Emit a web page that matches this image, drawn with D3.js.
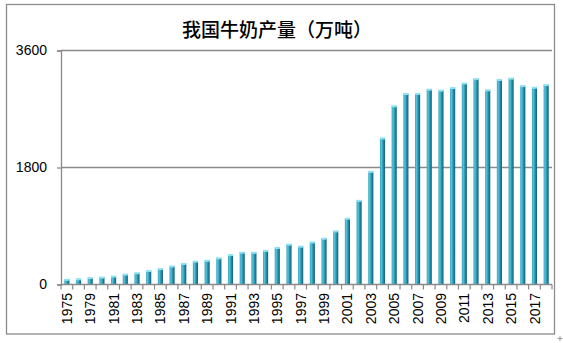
<!DOCTYPE html>
<html>
<head>
<meta charset="utf-8">
<script src="https://cdn.jsdelivr.net/npm/d3@7"></script>
<style>
  html, body { margin: 0; padding: 0; background: #fff; }
  svg { display: block; }
</style>
</head>
<body>
<svg id="chart" width="563" height="343"></svg>
<script>
const title = "我国牛奶产量（万吨）";
const years = ["1975","1978","1979","1980","1981","1982","1983","1984","1985","1986",
  "1987","1988","1989","1990","1991","1992","1993","1994","1995","1996","1997","1998",
  "1999","2000","2001","2002","2003","2004","2005","2006","2007","2008","2009","2010",
  "2011","2012","2013","2014","2015","2016","2017","2018"];
const milk = [80, 88, 107, 114, 129, 160, 180, 215, 245, 285,
  325, 360, 372, 410, 460, 497, 495, 525, 570, 620, 590, 655,
  712, 825, 1020, 1295, 1740, 2255, 2748, 2938, 2940, 3005, 2990, 3030,
  3100, 3168, 2995, 3155, 3175, 3060, 3035, 3075];
const yTicks = [0, 1800, 3600];

(function () {
const svg = d3.select("#chart");
const pLeft = 61, pRight = 552, pTop = 50.5, pBottom = 284.5;

// outer border
svg.append("rect").attr("x", 6.5).attr("y", 4.5).attr("width", 548).attr("height", 329.5)
  .attr("fill", "#fff").attr("stroke", "#8c8c8c").attr("stroke-width", 1.3);
// small resize mark
svg.append("path").attr("d", "M557.5,338.5h5M560,336v5").attr("stroke", "#999").attr("stroke-width", 1);

const defs = svg.append("defs");
const g1 = defs.append("linearGradient").attr("id", "barGrad").attr("x1", "0").attr("x2", "1").attr("y1", "0").attr("y2", "0");
[["0%", "#3aa6c1"], ["30%", "#55c2da"], ["60%", "#2794b1"], ["100%", "#135d72"]].forEach(s =>
  g1.append("stop").attr("offset", s[0]).attr("stop-color", s[1]));

const x = d3.scaleBand().domain(years).range([pLeft, pRight]).paddingInner(0.56).paddingOuter(0.28);
const y = d3.scaleLinear().domain([0, 3600]).range([pBottom, pTop]);

// gridlines
svg.append("g").selectAll("line").data(yTicks.filter(d => d > 0)).join("line")
  .attr("x1", pLeft).attr("x2", pRight)
  .attr("y1", d => y(d)).attr("y2", d => y(d))
  .attr("stroke", "#8a8a8a").attr("stroke-width", 1.3);

// y axis
const yAxis = svg.append("g").attr("transform", `translate(${pLeft},0)`)
  .call(d3.axisLeft(y).tickValues(yTicks).tickSize(4).tickPadding(10).tickFormat(d3.format("d")));
yAxis.select(".domain").attr("stroke", "#8a8a8a").attr("stroke-width", 1.3);
yAxis.selectAll(".tick line").attr("stroke", "#8a8a8a").attr("stroke-width", 1.3);
yAxis.selectAll("text").attr("font-family", "'Liberation Sans', Arial, sans-serif")
  .attr("font-size", "14px").attr("fill", "#000");

// bars
const bars = svg.append("g");
bars.selectAll("rect.bar").data(years).join("rect").attr("class", "bar")
  .attr("x", d => x(d)).attr("width", x.bandwidth())
  .attr("y", (d, i) => y(milk[i])).attr("height", (d, i) => pBottom - y(milk[i]))
  .attr("fill", "url(#barGrad)");
bars.selectAll("rect.cap").data(years).join("rect").attr("class", "cap")
  .attr("x", d => x(d)).attr("width", x.bandwidth())
  .attr("y", (d, i) => y(milk[i]) - 0.5).attr("height", 2)
  .attr("fill", "#8fe4f4");

// x axis baseline
svg.append("line").attr("x1", pLeft).attr("x2", pRight).attr("y1", pBottom).attr("y2", pBottom)
  .attr("stroke", "#8a8a8a").attr("stroke-width", 1.3);
// category boundary ticks
const step = x.step();
const bounds = d3.range(years.length + 1);
const bx = i => (i < years.length ? x(years[i]) - (step - x.bandwidth()) / 2 : pRight);
svg.append("g").selectAll("line").data(bounds).join("line")
  .attr("x1", bx).attr("x2", bx)
  .attr("y1", pBottom).attr("y2", pBottom + 5)
  .attr("stroke", "#8a8a8a").attr("stroke-width", 1.2);

// x labels (every other)
svg.append("g").selectAll("text").data(years.filter((d, i) => i % 2 === 0)).join("text")
  .attr("transform", d => `translate(${x(d) + x.bandwidth() / 2},293) rotate(-90)`)
  .attr("text-anchor", "end").attr("dy", "0.36em")
  .attr("font-family", "'Liberation Sans', Arial, sans-serif").attr("font-size", "14px")
  .attr("fill", "#000").text(d => d);

// title
svg.append("text").attr("x", 277).attr("y", 37).attr("text-anchor", "middle")
  .attr("font-family", "'Noto Sans CJK SC', sans-serif").attr("font-size", "19px")
  .attr("font-weight", 500)
  .attr("fill", "#000").text(title);
})();
</script>
</body>
</html>
